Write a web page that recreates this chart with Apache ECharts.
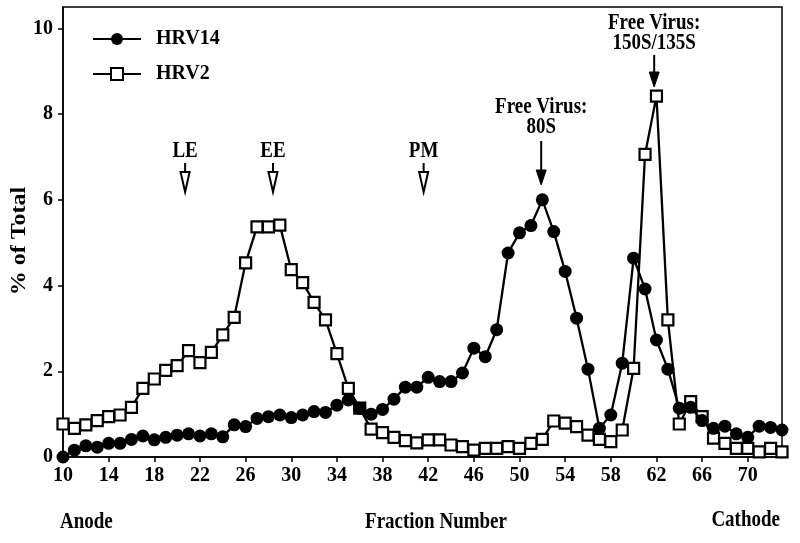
<!DOCTYPE html>
<html>
<head>
<meta charset="utf-8">
<script src="https://cdn.jsdelivr.net/npm/echarts@6/dist/echarts.min.js"></script>
<style>
html,body{margin:0;padding:0;background:#fff;}
#chart{width:800px;height:543px;}
</style>
</head>
<body>
<div id="chart"></div>
<script>
// ---- data ----
const fractions = [10,11,12,13,14,15,16,17,18,19,20,21,22,23,24,25,26,27,28,29,30,31,32,33,34,35,36,37,38,39,40,41,42,43,44,45,46,47,48,49,50,51,52,53,54,55,56,57,58,59,60,61,62,63,64,65,66,67,68,69,70,71,72,73];
const hrv14 = [0,0.16,0.26,0.23,0.32,0.32,0.41,0.49,0.40,0.46,0.51,0.54,0.49,0.54,0.47,0.75,0.71,0.90,0.94,0.98,0.92,0.98,1.06,1.04,1.21,1.33,1.14,1.00,1.11,1.35,1.63,1.63,1.86,1.76,1.76,1.96,2.54,2.34,2.97,4.76,5.23,5.40,6.00,5.26,4.33,3.24,2.05,0.67,0.98,2.19,4.64,3.92,2.73,2.05,1.14,1.16,0.85,0.67,0.72,0.54,0.46,0.72,0.69,0.63];
const hrv2 = [0.77,0.67,0.75,0.85,0.94,0.98,1.16,1.60,1.82,2.02,2.13,2.48,2.20,2.44,2.85,3.26,4.53,5.37,5.37,5.41,4.37,4.07,3.61,3.20,2.41,1.60,1.14,0.65,0.57,0.46,0.38,0.33,0.40,0.40,0.28,0.24,0.16,0.20,0.20,0.24,0.20,0.32,0.41,0.84,0.79,0.71,0.51,0.41,0.36,0.63,2.07,7.06,8.42,3.20,0.77,1.29,0.94,0.44,0.32,0.20,0.20,0.12,0.20,0.12];
const seriesNames = ['HRV14','HRV2'];
const xTicks = [10,14,18,22,26,30,34,38,42,46,50,54,58,62,66,70];
const yTicks = [0,2,4,6,8,10];
const compartmentLabels = ['LE','EE','PM'];
const compartmentFractions = [20.7,28.4,41.6];
const virusLabels = ['Free Virus:\n80S','Free Virus:\n150S/135S'];
const virusFractions = [51.9,61.8];
const yAxisTitle = '% of Total';
const xAxisTitle = 'Fraction Number';
const leftEndLabel = 'Anode';
const rightEndLabel = 'Cathode';

// ---- chart ----
const FONT = '"Liberation Serif","Times New Roman",serif';
const chart = echarts.init(document.getElementById('chart'), null, {renderer:'canvas'});
const pairs = (ys) => fractions.map((f,i)=>[f, ys[i]]);

chart.setOption({
  animation:false,
  backgroundColor:'#fff',
  grid:{left:63,right:18,top:7,bottom:86,outerBoundsMode:'none',containLabel:false,show:true,borderColor:'#000',borderWidth:1.5,backgroundColor:'transparent'},
  legend:{
    left:92, top:29, padding:0, orient:'vertical', itemWidth:48, itemHeight:15, itemGap:15,
    data:seriesNames,
    textStyle:{fontFamily:FONT,fontWeight:'bold',fontSize:20,color:'#000',padding:[0,0,0,10]},
    inactiveColor:'#000'
  },
  xAxis:{
    type:'value', min:10, max:73,
    axisLine:{lineStyle:{color:'#000',width:1.5}},
    axisTick:{customValues:xTicks,length:5,lineStyle:{color:'#000',width:1.5}},
    axisLabel:{customValues:xTicks,margin:9,color:'#000',fontFamily:FONT,fontWeight:'bold',fontSize:20},
    splitLine:{show:false}
  },
  yAxis:{
    type:'value', min:0, max:10.5,
    axisLine:{show:true,lineStyle:{color:'#000',width:1.5}},
    axisTick:{show:true,customValues:yTicks,length:5,lineStyle:{color:'#000',width:1.5}},
    axisLabel:{customValues:yTicks,margin:10,color:'#000',fontFamily:FONT,fontWeight:'bold',fontSize:20},
    splitLine:{show:false}
  },
  series:[
    {
      name:seriesNames[1], type:'line', data:pairs(hrv2), z:3,
      symbol:'rect', symbolSize:11,
      lineStyle:{color:'#000',width:2.3},
      itemStyle:{color:'#fff',borderColor:'#000',borderWidth:2.2}
    },
    {
      name:seriesNames[0], type:'line', data:pairs(hrv14), z:4,
      symbol:'circle', symbolSize:13,
      lineStyle:{color:'#000',width:2.3},
      itemStyle:{color:'#000',borderColor:'#000',borderWidth:0}
    }
  ]
});

// ---- annotations (x derived from data coordinates) ----
const graphics = [];
const txt = (x,y,text,align) => ({
  type:'text', x:x, y:y, scaleY:1.2, z:10,
  style:{text:text,fill:'#000',font:'bold 19px '+FONT,textAlign:align||'center',textVerticalAlign:'middle',lineHeight:17}
});
const px = (f,v) => chart.convertToPixel({gridIndex:0},[f,v]);

compartmentFractions.forEach((f,i)=>{
  const x = px(f, 0)[0];
  const top = 151;
  graphics.push(txt(x, top, compartmentLabels[i], 'center'));
  graphics.push({type:'line',shape:{x1:x,y1:top+12,x2:x,y2:top+21},style:{stroke:'#000',lineWidth:2}});
  graphics.push({type:'polygon',shape:{points:[[x-4.5,top+21],[x+4.5,top+21],[x,top+41]]},style:{fill:'#fff',stroke:'#000',lineWidth:2}});
});

const virusTextCenter = [117, 33];
const virusArrowTop = [141, 55];
const virusArrowTip = [185, 87];
virusFractions.forEach((f,i)=>{
  const x = px(f, 0)[0];
  graphics.push(txt(x, virusTextCenter[i], virusLabels[i], 'center'));
  graphics.push({type:'line',shape:{x1:x,y1:virusArrowTop[i],x2:x,y2:virusArrowTip[i]-13},style:{stroke:'#000',lineWidth:2}});
  graphics.push({type:'polygon',shape:{points:[[x-5,virusArrowTip[i]-15],[x+5,virusArrowTip[i]-15],[x,virusArrowTip[i]]]},style:{fill:'#000',stroke:'#000',lineWidth:1}});
});

graphics.push(txt(60, 522, leftEndLabel, 'left'));
graphics.push(txt(436, 522, xAxisTitle, 'center'));
graphics.push(txt(780, 520, rightEndLabel, 'right'));
graphics.push({
  type:'text', x:20, y:241, rotation:Math.PI/2, scaleX:1.2, z:10,
  style:{text:yAxisTitle,fill:'#000',font:'bold 20px '+FONT,textAlign:'center',textVerticalAlign:'middle'}
});

chart.setOption({graphic:graphics});
</script>
</body>
</html>
